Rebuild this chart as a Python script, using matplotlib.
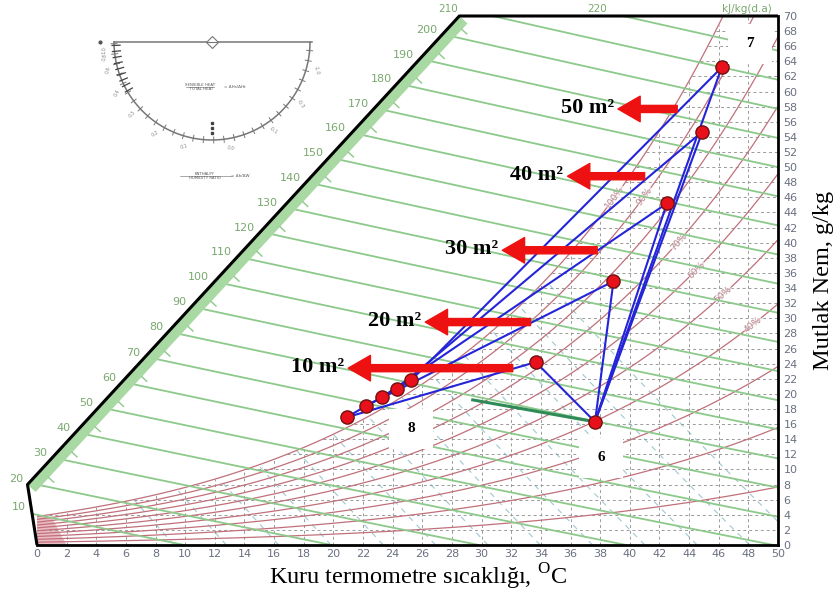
import numpy as np
import matplotlib
matplotlib.use("Agg")
import matplotlib.pyplot as plt
from matplotlib.patches import Rectangle, Polygon

# ---------------- data ----------------
x_ticks = list(range(0, 51, 2))
y_ticks = list(range(0, 71, 2))
enthalpy_levels = list(range(10, 230, 10))          # kJ/kg(d.a)
enthalpy_label_levels = list(range(20, 210, 10))
rh_levels = [0.1, 0.2, 0.3, 0.4, 0.5, 0.6, 0.7, 0.8, 0.9, 1.0]
rh_label_levels = [1.0, 0.9, 0.7, 0.6, 0.5, 0.4]
rh_label_temps = [39.0, 41.0, 43.3, 44.5, 46.3, 48.3]
volume_levels = [0.80, 0.81, 0.82, 0.83, 0.84, 0.85, 0.86, 0.87, 0.88, 0.89, 0.90, 0.91, 0.92]

cluster_t = [20.9, 22.2, 23.3, 24.3, 25.25]          # inlet points (8 side)
cluster_w = [16.9, 18.4, 19.6, 20.7, 21.8]
upper_t = [33.65, 38.9, 42.5, 44.9, 46.2]            # points for 10..50 m2 (7 side)
upper_w = [24.2, 34.9, 45.2, 54.7, 63.2]
p6_t, p6_w = 37.65, 16.3
green_seg_t = [29.4, 37.65]
green_seg_w = [19.2, 16.3]

area_labels = ["10 m\u00b2", "20 m\u00b2", "30 m\u00b2", "40 m\u00b2", "50 m\u00b2"]
arrow_w = [23.4, 29.5, 39.0, 48.8, 57.7]
arrow_tail_t = [32.1, 33.3, 37.8, 41.0, 43.2]
arrow_tip_t = [21.0, 26.2, 31.4, 35.8, 39.2]

state_labels = ["7", "8", "6"]
state_box_t = [46.6, 23.75, 36.6]     # box left edge (deg C)
state_box_w = [69.0, 18.0, 14.2]      # box top edge (g/kg)

# ---------------- helpers ----------------
P = 101.325
def w_rh(t, rh):
    ps = 0.61094 * np.exp(17.625 * t / (t + 243.04))
    pv = rh * ps
    return 622.0 * pv / (P - pv)

def w_h(h, t):
    return 1000.0 * (h - 1.006 * t) / (2501.0 + 1.86 * t)

def h_of(t, w):
    return 1.006 * t + w / 1000.0 * (2501.0 + 1.86 * t)

W, H = 840, 595
fig = plt.figure(figsize=(W / 100, H / 100), dpi=100)
fig.patch.set_facecolor("white")
ax = fig.add_axes([37 / W, 50 / H, 741 / W, 529 / H])
ax.set_xlim(0, 50)
ax.set_ylim(0, 70)
PX_T = 741 / 50.0
PX_W = 529 / 70.0

GREEN = "#8cc98a"
GREEN_TXT = "#79a86e"
RED_C = "#c0707a"
GRAY_D = "#9a9a9a"
TEAL = "#6aaab5"

# boundary (enthalpy scale line)
S0 = (-0.64, 8.0)
S1 = (28.5, 70.0)
bt = np.concatenate([np.linspace(0, S0[0], 200), np.linspace(S0[0], S1[0], 2000)])
bw = np.concatenate([np.linspace(0, S0[1], 200), np.linspace(S0[1], S1[1], 2000)])
bh = h_of(bt, bw)

tt = np.linspace(0, 50, 1001)
wsat = w_rh(tt, 1.0)

# pink fill near origin
ax.add_patch(Polygon([(0, 0), (0, 3.9), (1.0, 3.6), (2.0, 0)], closed=True,
                     facecolor="#e8b4bd", edgecolor="none", alpha=0.9, zorder=1))

# dashed grid in unsaturated region
for t in range(2, 50, 2):
    top = min(w_rh(t, 1.0), 70)
    ax.plot([t, t], [0, top], color=GRAY_D, lw=0.7, ls=(0, (3, 3)), zorder=1)
for w in range(2, 70, 2):
    ts = np.interp(w, wsat, tt)
    ax.plot([ts, 50], [w, w], color=GRAY_D, lw=0.7, ls=(0, (3, 3)), zorder=1)

# specific volume lines (teal dashed)
for v in volume_levels:
    wv = np.linspace(0, 70, 400)
    tv = v * P / (0.287042 * (1 + 1.607858 * wv / 1000.0)) - 273.15
    ok = (tv <= 50) & (tv >= 0) & (wv <= w_rh(np.clip(tv, 0, 60), 1.0))
    ax.plot(tv[ok], wv[ok], color=TEAL, lw=0.8, ls=(0, (5, 5)), alpha=0.65, zorder=1)

# RH curves
for rh in rh_levels:
    w = w_rh(tt, rh)
    ok = w <= 70
    ax.plot(tt[ok], w[ok], color=RED_C, lw=0.9, zorder=2)
for rh, tl in zip(rh_label_levels, rh_label_temps):
    wl = w_rh(tl, rh)
    slope = (w_rh(tl + 0.1, rh) - w_rh(tl - 0.1, rh)) / 0.2 * PX_W / PX_T
    ax.text(tl, wl, "%d%%" % int(round(rh * 100)), color="#b08088", fontsize=6.5,
            rotation=np.degrees(np.arctan(slope)), ha="center", va="center", zorder=2,
            bbox=dict(facecolor="white", edgecolor="none", pad=0.3, alpha=0.6))

# enthalpy lines
for h in enthalpy_levels:
    if h <= bh.max():
        t0 = np.interp(h, bh, bt)
    else:
        t0 = (h - 0.07 * 2501) / (1.006 + 0.07 * 1.86)
    if w_h(h, 50) >= 0:
        t1 = 50
    else:
        t1 = h / 1.006
    tl = np.linspace(t0, t1, 60)
    ax.plot(tl, w_h(h, tl), color=GREEN, lw=1.3, zorder=3, clip_on=False)

# green band along scale
dx = (S1[0] - S0[0]) * PX_T
dy = (S1[1] - S0[1]) * PX_W
L = np.hypot(dx, dy)
nx, ny = dy / L, -dx / L
band = 11
off_t, off_w = nx * band / PX_T, ny * band / PX_W
ax.add_patch(Polygon([S0, S1, (S1[0] + off_t, S1[1] + off_w), (S0[0] + off_t, S0[1] + off_w)],
                     closed=True, facecolor="#a9d9a3", edgecolor="none", zorder=3, clip_on=False))
for h in range(25, 210, 10):
    t0 = np.interp(h, bh, bt); w0 = np.interp(h, bh, bw)
    ax.plot([t0 + off_t, t0 + off_t * 1.6], [w0 + off_w, w0 + off_w * 1.6], color="#8cc98a",
            lw=1.0, zorder=3, clip_on=False)

# enthalpy labels
for h in enthalpy_label_levels:
    t0 = np.interp(h, bh, bt); w0 = np.interp(h, bh, bw)
    ax.annotate(str(h), (t0, w0), xytext=(-4, 3), textcoords="offset points",
                ha="right", va="center", fontsize=8, color=GREEN_TXT, annotation_clip=False)
ax.annotate("210", S1, xytext=(-8, 5), textcoords="offset points", ha="center", va="center",
            fontsize=7.5, color=GREEN_TXT, annotation_clip=False)
ax.annotate("220", (37.8, 70), xytext=(0, 5), textcoords="offset points", ha="center",
            va="center", fontsize=7.5, color=GREEN_TXT, annotation_clip=False)
ax.annotate("kJ/kg(d.a)", (49.6, 70), xytext=(0, 5), textcoords="offset points", ha="right",
            va="center", fontsize=7.5, color=GREEN_TXT, annotation_clip=False)
ax.annotate("10", (S0[0], 5.0), xytext=(-1, 0), textcoords="offset points", ha="right",
            va="center", fontsize=8, color=GREEN_TXT, annotation_clip=False)

# frame
ax.plot([0, S0[0], S1[0], 50], [0, S0[1], S1[1], 70], color="black", lw=2.2, zorder=4,
        clip_on=False, solid_capstyle="butt")
for s in ["left", "top"]:
    ax.spines[s].set_visible(False)
for s in ["bottom", "right"]:
    ax.spines[s].set_linewidth(2.0)
    ax.spines[s].set_zorder(4)

ax.set_xticks(x_ticks)
ax.set_yticks(y_ticks)
ax.yaxis.tick_right()
ax.tick_params(axis="both", length=0, labelsize=8, labelcolor="#6a7080", pad=3)
ax.tick_params(axis="y", pad=4)

# dark green segment
ax.plot(green_seg_t, green_seg_w, color="#2e8b57", lw=2.2, zorder=4)

# process lines
ax.plot(cluster_t, cluster_w, color="#2424d8", lw=1.5, zorder=5)
for ct, cw, ut, uw in zip(cluster_t, cluster_w, upper_t, upper_w):
    ax.plot([ct, ut, p6_t], [cw, uw, p6_w], color="#2424d8", lw=1.5, zorder=5)

ax.plot(cluster_t + upper_t + [p6_t], cluster_w + upper_w + [p6_w], ls="none", marker="o",
        ms=9.5, mfc="#e8101a", mec="#701010", mew=1.0, zorder=6)

# arrows and labels
for lab, aw, tail, tip in zip(area_labels, arrow_w, arrow_tail_t, arrow_tip_t):
    ax.annotate("", xy=(tip, aw), xytext=(tail, aw),
                arrowprops=dict(arrowstyle="simple,head_length=1.0,head_width=1.15,tail_width=0.32",
                                color="#ee1111", shrinkA=0, shrinkB=0, mutation_scale=16), zorder=7)
    ax.annotate(lab, (tip, aw), xytext=(-3, 1), textcoords="offset points", ha="right",
                va="center", fontsize=16, fontweight="bold", family="Liberation Serif", zorder=7)

# state boxes
for lab, bt0, bw0 in zip(state_labels, state_box_t, state_box_w):
    wd = 44 / PX_T; ht = 40 / PX_W
    ax.add_patch(Rectangle((bt0, bw0 - ht), wd, ht, facecolor="white", edgecolor="none",
                           zorder=8, clip_on=False))
    ax.text(bt0 + wd / 2, bw0 - ht / 2, lab, ha="center", va="center", fontsize=11,
            fontweight="bold", family="Liberation Serif", zorder=9)

# axis labels
plt.rcParams["mathtext.fontset"] = "custom"
plt.rcParams["mathtext.rm"] = "Liberation Serif"
fig.text(418 / W, 1 - 577 / H, "Kuru termometre s\u0131cakl\u0131\u011f\u0131, $^{\\mathrm{O}}$C",
         ha="center", va="center", fontsize=17.5, family="Liberation Serif")
fig.text(823 / W, 1 - 280 / H, "Mutlak Nem, g/kg", rotation=90, ha="center", va="center",
         fontsize=17.5, family="Liberation Serif")

# protractor (top-left)
axp = fig.add_axes([80 / W, 1 - 200 / H, 260 / W, 190 / H])
axp.set_xlim(80, 340); axp.set_ylim(200, 10); axp.axis("off")
cx, cy, r = 212, 42, 98
th = np.linspace(0, np.pi, 300)
pc = "#777777"
axp.plot(cx + r * np.cos(th), cy + r * np.sin(th), color=pc, lw=1.1)
axp.plot([cx - r, cx + r + 2], [cy, cy], color=pc, lw=1.1)
for a in np.arange(5, 180, 6):
    ar = np.radians(a)
    axp.plot([cx + (r - 3) * np.cos(ar), cx + (r + 3) * np.cos(ar)],
             [cy + (r - 3) * np.sin(ar), cy + (r + 3) * np.sin(ar)], color=pc, lw=0.7)
for a in np.linspace(150, 178, 9):
    ar = np.radians(a)
    axp.plot([cx + (r - 6) * np.cos(ar), cx + (r + 2) * np.cos(ar)],
             [cy + (r - 6) * np.sin(ar), cy + (r + 2) * np.sin(ar)], color="#444", lw=0.9)
for a, s in [(165, "0.6"), (152, "0.4"), (138, "0.3"), (122, "0.2"), (105, "0.1"),
             (80, "0.0"), (55, "-0.1"), (35, "-0.3"), (15, "-1.0"), (172, "0.8"), (176, "1.0")]:
    ar = np.radians(a)
    axp.text(cx + (r + 10) * np.cos(ar), cy + (r + 10) * np.sin(ar), s, fontsize=3.5,
             color="#888", ha="center", va="center", rotation=a - 90)
axp.plot([cx], [cy], marker="D", ms=6, mfc="white", mec=pc, mew=0.8)
axp.plot([cx - 5, cx + 5], [cy, cy], color=pc, lw=0.8)
axp.plot([100], [cy], marker="o", ms=2, color="#555")
axp.plot([cx, cx, cx], [123, 128, 133], ls="none", marker="s", ms=1.5, color="#444")
axp.text(200, 87, "SENSIBLE HEAT\n  TOTAL HEAT", fontsize=2.8, color="#555", ha="center",
         va="center", family="DejaVu Sans")
axp.plot([186, 214], [87, 87], color="#666", lw=0.4)
axp.text(235, 87, "= \u0394Hs/\u0394Ht", fontsize=3, color="#555", ha="center", va="center")
axp.text(205, 176, "ENTHALPY\nHUMIDITY RATIO", fontsize=2.8, color="#555", ha="center",
         va="center")
axp.plot([180, 232], [176, 176], color="#666", lw=0.4)
axp.text(240, 176, "= \u0394h/\u0394W", fontsize=3, color="#555", ha="center", va="center")

fig.savefig("out.png", dpi=100, facecolor="white")
